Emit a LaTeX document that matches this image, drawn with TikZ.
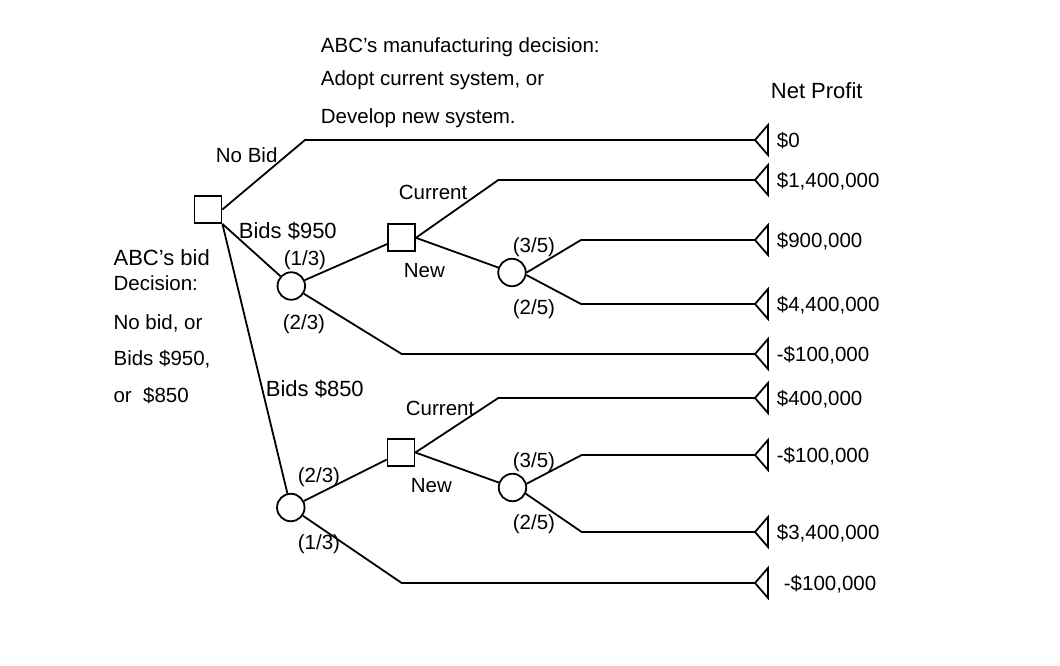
\documentclass[tikz,border=0pt]{standalone}
\usepackage{fontspec}
\setmainfont{Liberation Sans}
\begin{document}
\begin{tikzpicture}[x=1pt,y=-1pt,line width=1.8pt,
  dec/.style={draw,rectangle,minimum size=27pt,inner sep=0pt},
  chance/.style={draw,circle,minimum size=27.5pt,inner sep=0pt},
  lbl/.style={anchor=base west,inner sep=0pt,font=\fontsize{20.5}{24}\selectfont},
  lblb/.style={lbl,font=\fontsize{22}{26}\selectfont},
  term/.pic={\draw (0,0) -- (13,-15) -- (13,15) -- cycle;}]
\useasboundingbox (0,0) rectangle (1060,666);

% decision and chance nodes
\node[dec] (root) at (208,209.5) {};
\node[chance] (c1) at (291.3,286) {};
\node[dec] (d1) at (401.5,237.8) {};
\node[chance] (c2) at (512,272.5) {};
\node[chance] (c3) at (290.8,507.5) {};
\node[dec] (d2) at (401,452.5) {};
\node[chance] (c4) at (512.5,487.5) {};

% terminal tips
\coordinate (t1) at (755,140);
\coordinate (t2) at (755,180);
\coordinate (t3) at (755,240);
\coordinate (t4) at (755,304);
\coordinate (t5) at (755,354);
\coordinate (t6) at (755,398);
\coordinate (t7) at (755,455);
\coordinate (t8) at (755,532);
\coordinate (t9) at (755,583);

% bend points
\coordinate (b1) at (305,140);
\coordinate (b2) at (401.7,354);
\coordinate (b3) at (498.3,180);
\coordinate (b4) at (581,240);
\coordinate (b5) at (581,304);
\coordinate (b6) at (498.3,398);
\coordinate (b7) at (581.7,455);
\coordinate (b8) at (581.7,532);
\coordinate (b9) at (401.7,583);

% connectors
\draw (root.east) -- (b1) -- (t1);
\draw (root.south east) -- (c1);
\draw (root.south east) -- (c3);
\draw (c1) -- (d1);
\draw (c1) -- (b2) -- (t5);
\draw (d1.east) -- (b3) -- (t2);
\draw (d1.east) -- (c2);
\draw (c2.east) -- (b4) -- (t3);
\draw (c2.-10) -- (b5) -- (t4);
\draw (c3) -- (d2);
\draw (c3) -- (b9) -- (t9);
\draw (d2.east) -- (b6) -- (t6);
\draw (d2.east) -- (c4);
\draw (c4.15) -- (b7) -- (t7);
\draw (c4.-25) -- (b8) -- (t8);

% terminal triangles
\foreach \t in {t1,t2,t3,t4,t5,t6,t7,t8,t9} { \pic at (\t) {term}; }

% terminal values
\node[lbl] (v1) at (776,147.4) {\$0};
\node[lbl] (v2) at (776,187.4) {\$1,400,000};
\node[lbl] (v3) at (776,247.4) {\$900,000};
\node[lbl] (v4) at (776,311.4) {\$4,400,000};
\node[lbl] (v5) at (776,361.4) {-\$100,000};
\node[lbl] (v6) at (776,405.4) {\$400,000};
\node[lbl] (v7) at (776,462.4) {-\$100,000};
\node[lbl] (v8) at (776,539.4) {\$3,400,000};
\node[lbl] (v9) at (783,590.4) {-\$100,000};

% headings
\node[lbl] (h1) at (320,52.4) {ABC’s manufacturing decision:};
\node[lbl] (h2) at (320,85.4) {Adopt current system, or};
\node[lbl] (h3) at (320,123.4) {Develop new system.};
\node[lblb] (np) at (770,98.9) {Net Profit};

% left description
\node[lblb] (l1) at (112.7,265.2) {ABC’s bid};
\node[lbl] (l2) at (112.7,290.7) {Decision:};
\node[lbl] (l3) at (112.7,329) {No bid, or};
\node[lbl] (l4) at (112.7,365.6) {Bids \$950,};
\node[lbl] (l5) at (112.7,402.4) {or\ \ \$850};

% branch labels
\node[lbl] (n1) at (215,162.4) {No Bid};
\node[lblb] (n2) at (238,238) {Bids \$950};
\node[lbl] (n3) at (283,265.4) {(1/3)};
\node[lbl] (n4) at (282,329.4) {(2/3)};
\node[lbl] (n5) at (398,199.4) {Current};
\node[lbl] (n6) at (403,277.4) {New};
\node[lbl] (n7) at (512,252.4) {(3/5)};
\node[lbl] (n8) at (512,314) {(2/5)};
\node[lblb] (n9) at (265,396.2) {Bids \$850};
\node[lbl] (n10) at (405,415.7) {Current};
\node[lbl] (n11) at (297,482.4) {(2/3)};
\node[lbl] (n12) at (410,492.4) {New};
\node[lbl] (n13) at (512,467.4) {(3/5)};
\node[lbl] (n14) at (512,529) {(2/5)};
\node[lbl] (n15) at (297,549) {(1/3)};
\end{tikzpicture}
\end{document}
